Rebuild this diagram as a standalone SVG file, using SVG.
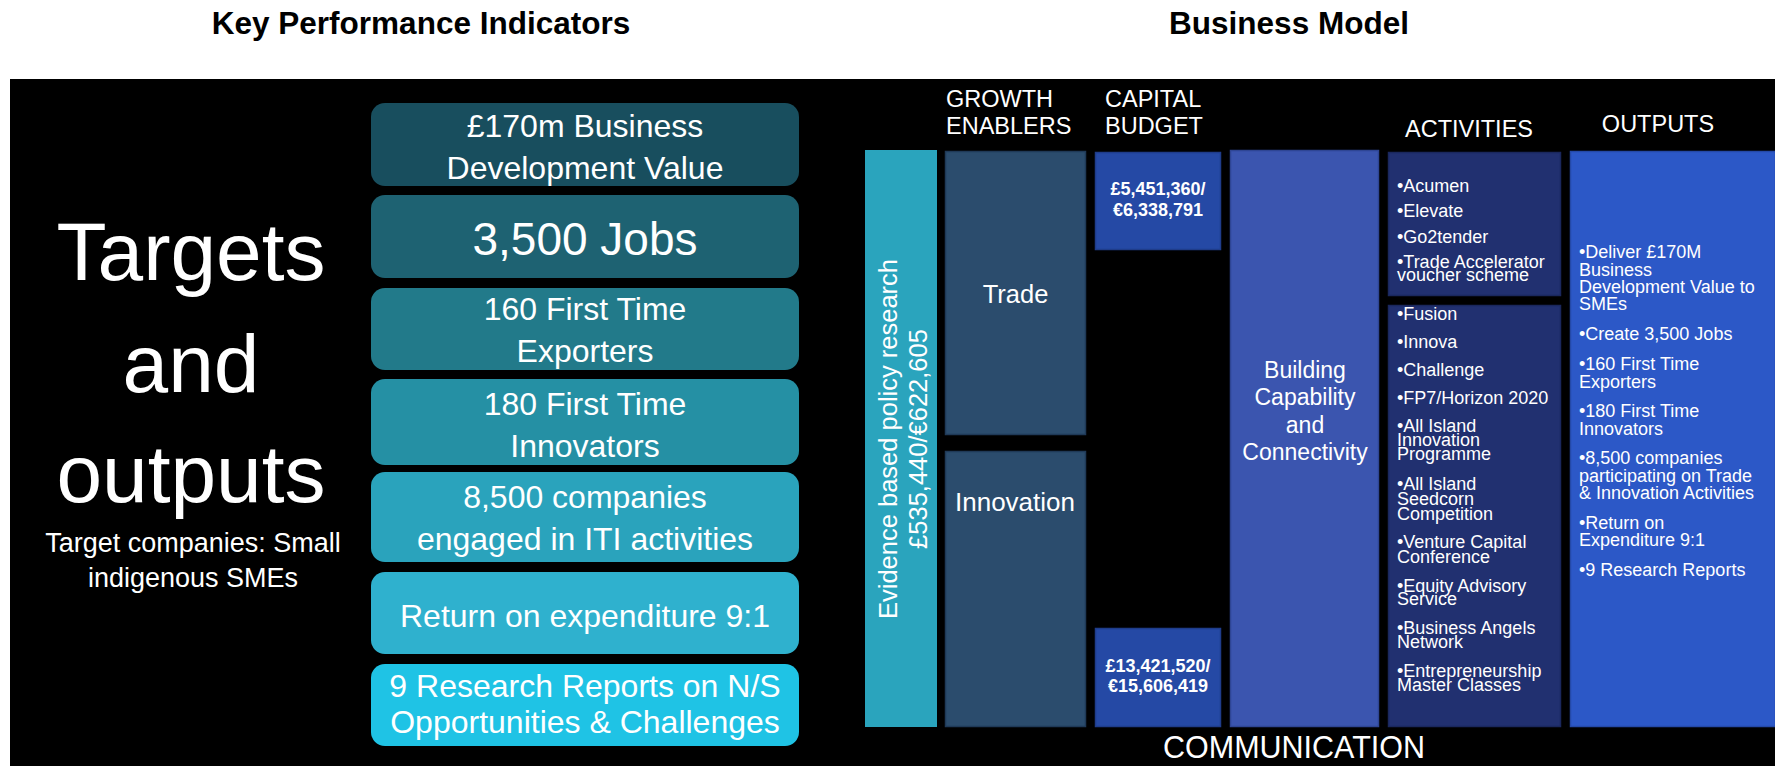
<svg xmlns="http://www.w3.org/2000/svg" width="1775" height="766" viewBox="0 0 1775 766">
<style>
text{font-family:"Liberation Sans",Arial,sans-serif;fill:#fff}
.title{font-weight:bold;fill:#000;font-size:31.5px;text-anchor:middle}
.kpi{font-size:32px;text-anchor:middle}
.big{font-size:46px}
.hdr{font-size:23.5px}
.li{font-size:18px}
.cap{font-size:18px;font-weight:bold;text-anchor:middle}
.ctr{text-anchor:middle}
</style>
<rect x="0" y="0" width="1775" height="766" fill="#fff"/>
<text class="title" x="421" y="34">Key Performance Indicators</text>
<text class="title" x="1289" y="34">Business Model</text>
<rect x="10" y="79" width="1765" height="687" fill="#000"/>

<g id="targets">
<text class="ctr" x="191" y="280" font-size="82">Targets</text>
<text class="ctr" x="191" y="392" font-size="82">and</text>
<text class="ctr" x="191" y="502" font-size="82">outputs</text>
<text class="ctr" x="193" y="552" font-size="27">Target companies: Small</text>
<text class="ctr" x="193" y="587" font-size="27">indigenous SMEs</text>
</g>

<g id="kpi1"><rect x="371" y="103" width="428" height="83" rx="14" fill="#184e5e"/>
<text class="kpi" x="585" y="137">£170m Business</text><text class="kpi" x="585" y="179">Development Value</text></g>
<g id="kpi2"><rect x="371" y="195" width="428" height="83" rx="14" fill="#1e6272"/>
<text class="kpi big" x="585" y="255">3,500 Jobs</text></g>
<g id="kpi3"><rect x="371" y="288" width="428" height="82" rx="14" fill="#227a8a"/>
<text class="kpi" x="585" y="320">160 First Time</text><text class="kpi" x="585" y="362">Exporters</text></g>
<g id="kpi4"><rect x="371" y="379" width="428" height="86" rx="14" fill="#2590a4"/>
<text class="kpi" x="585" y="415">180 First Time</text><text class="kpi" x="585" y="457">Innovators</text></g>
<g id="kpi5"><rect x="371" y="472" width="428" height="90" rx="14" fill="#2aa3bc"/>
<text class="kpi" x="585" y="508">8,500 companies</text><text class="kpi" x="585" y="550">engaged in ITI activities</text></g>
<g id="kpi6"><rect x="371" y="572" width="428" height="82" rx="14" fill="#2fb1ce"/>
<text class="kpi" x="585" y="627">Return on expenditure 9:1</text></g>
<g id="kpi7"><rect x="371" y="664" width="428" height="82" rx="14" fill="#1fc3e5"/>
<text class="kpi" x="585" y="697">9 Research Reports on N/S</text><text class="kpi" x="585" y="733">Opportunities &amp; Challenges</text></g>

<g id="headers">
<text class="hdr" x="946" y="107">GROWTH</text><text class="hdr" x="946" y="134">ENABLERS</text>
<text class="hdr" x="1105" y="107">CAPITAL</text><text class="hdr" x="1105" y="134">BUDGET</text>
<text class="hdr ctr" x="1469" y="137">ACTIVITIES</text>
<text class="hdr ctr" x="1658" y="132">OUTPUTS</text>
</g>

<g id="evidence"><rect x="865" y="150" width="72" height="577" fill="#2aa4bd"/>
<text class="ctr" font-size="25.5" transform="translate(897,439) rotate(-90)" x="0" y="0">Evidence based policy research</text>
<text class="ctr" font-size="25.5" transform="translate(927,439) rotate(-90)" x="0" y="0">£535,440/€622,605</text></g>

<g id="trade"><rect x="945.5" y="151.5" width="140" height="283" fill="#2b4c6d" stroke="#1f3957" stroke-width="1.5"/>
<text class="ctr" x="1015.5" y="303" font-size="25.5">Trade</text></g>
<g id="innovation"><rect x="945.5" y="451.5" width="140" height="275" fill="#2b4c6d" stroke="#1f3957" stroke-width="1.5"/>
<text class="ctr" x="1015" y="511" font-size="26">Innovation</text></g>

<g id="capital1"><rect x="1095.5" y="152.5" width="125" height="97" fill="#2549a5" stroke="#1f3c8a" stroke-width="1.5"/>
<text class="cap" x="1158" y="195">£5,451,360/</text><text class="cap" x="1158" y="216">€6,338,791</text></g>
<g id="capital2"><rect x="1095.5" y="628.5" width="125" height="98" fill="#2549a5" stroke="#1f3c8a" stroke-width="1.5"/>
<text class="cap" x="1158" y="672">£13,421,520/</text><text class="cap" x="1158" y="692">€15,606,419</text></g>

<g id="building"><rect x="1230.5" y="150.5" width="148" height="576" fill="#3b55af" stroke="#2e4594" stroke-width="1.5"/>
<text class="ctr" font-size="23" x="1305" y="378">Building</text>
<text class="ctr" font-size="23" x="1305" y="405">Capability</text>
<text class="ctr" font-size="23" x="1305" y="433">and</text>
<text class="ctr" font-size="23" x="1305" y="460">Connectivity</text></g>

<g id="activities-trade"><rect x="1388.5" y="152.5" width="172" height="143" fill="#213070" stroke="#1a275c" stroke-width="1.5"/>
<text class="li" x="1397" y="192">•Acumen</text>
<text class="li" x="1397" y="217">•Elevate</text>
<text class="li" x="1397" y="243">•Go2tender</text>
<text class="li" x="1397" y="268">•Trade Accelerator</text>
<text class="li" x="1397" y="281">voucher scheme</text></g>

<g id="activities-innovation"><rect x="1388.5" y="305.5" width="172" height="421" fill="#213070" stroke="#1a275c" stroke-width="1.5"/>
<text class="li" x="1397" y="320">•Fusion</text>
<text class="li" x="1397" y="348">•Innova</text>
<text class="li" x="1397" y="376">•Challenge</text>
<text class="li" x="1397" y="404">•FP7/Horizon 2020</text>
<text class="li" x="1397" y="432">•All Island</text>
<text class="li" x="1397" y="446">Innovation</text>
<text class="li" x="1397" y="460">Programme</text>
<text class="li" x="1397" y="490">•All Island</text>
<text class="li" x="1397" y="505">Seedcorn</text>
<text class="li" x="1397" y="520">Competition</text>
<text class="li" x="1397" y="548">•Venture Capital</text>
<text class="li" x="1397" y="563">Conference</text>
<text class="li" x="1397" y="592">•Equity Advisory</text>
<text class="li" x="1397" y="605">Service</text>
<text class="li" x="1397" y="634">•Business Angels</text>
<text class="li" x="1397" y="648">Network</text>
<text class="li" x="1397" y="677">•Entrepreneurship</text>
<text class="li" x="1397" y="691">Master Classes</text></g>

<g id="outputs"><rect x="1570.5" y="151.5" width="205" height="575" fill="#2c58c7" stroke="#2449a8" stroke-width="1.5"/>
<text class="li" x="1579" y="258">•Deliver £170M</text>
<text class="li" x="1579" y="276">Business</text>
<text class="li" x="1579" y="293">Development Value to</text>
<text class="li" x="1579" y="310">SMEs</text>
<text class="li" x="1579" y="340">•Create 3,500 Jobs</text>
<text class="li" x="1579" y="370">•160 First Time</text>
<text class="li" x="1579" y="388">Exporters</text>
<text class="li" x="1579" y="417">•180 First Time</text>
<text class="li" x="1579" y="435">Innovators</text>
<text class="li" x="1579" y="464">•8,500 companies</text>
<text class="li" x="1579" y="482">participating on Trade</text>
<text class="li" x="1579" y="499">&amp; Innovation Activities</text>
<text class="li" x="1579" y="529">•Return on</text>
<text class="li" x="1579" y="546">Expenditure 9:1</text>
<text class="li" x="1579" y="576">•9 Research Reports</text></g>

<g id="communication"><text class="ctr" x="1294" y="758" font-size="30.5">COMMUNICATION</text></g>
<g id="connectors"/>
</svg>
